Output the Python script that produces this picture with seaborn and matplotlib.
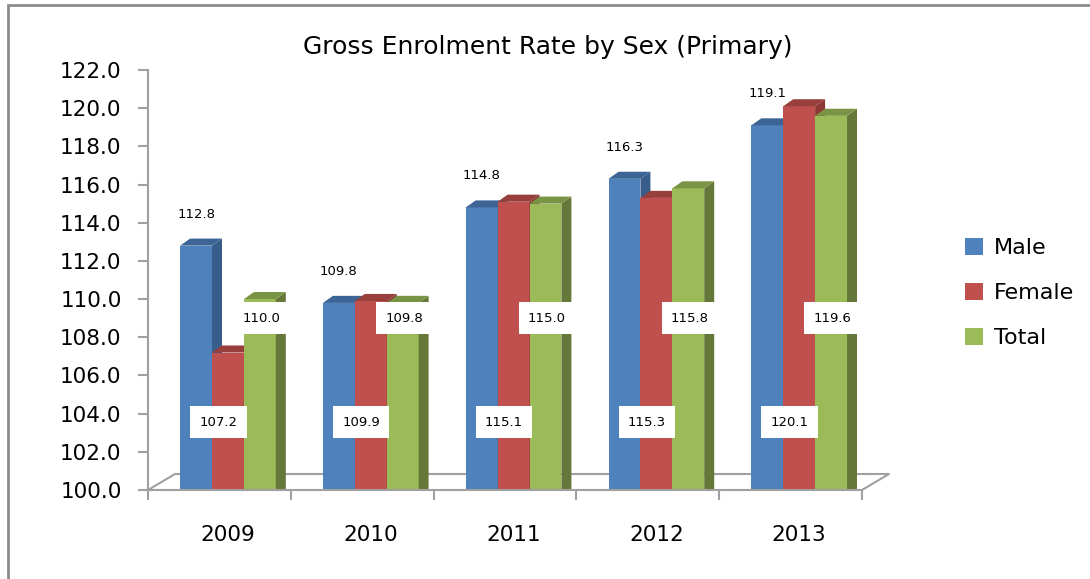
import numpy as np
import pandas as pd
import matplotlib
matplotlib.use("Agg")
import matplotlib.pyplot as plt
from matplotlib.patches import Polygon, Rectangle, Patch
import seaborn as sns

years = ["2009", "2010", "2011", "2012", "2013"]
male = [112.8, 109.8, 114.8, 116.3, 119.1]
female = [107.2, 109.9, 115.1, 115.3, 120.1]
total = [110.0, 109.8, 115.0, 115.8, 119.6]
series = ["Male", "Female", "Total"]

front = ["#4F81BD", "#C0504D", "#9BBB59"]
side = ["#385D8A", "#8C3836", "#66773A"]
top = ["#3C6494", "#983E3B", "#7A9445"]

df = pd.DataFrame({
    "year": years * 3,
    "value": male + female + total,
    "sex": ["Male"] * 5 + ["Female"] * 5 + ["Total"] * 5,
})

sns.set_style("white")
plt.rcParams["font.family"] = ["DejaVu Sans"]
plt.rcParams["text.color"] = "black"
plt.rcParams["xtick.labelcolor"] = "black"
plt.rcParams["ytick.labelcolor"] = "black"

fig = plt.figure(figsize=(10.9, 5.79), dpi=100)
ax = fig.add_axes([148 / 1090, 1 - 490 / 579, 714 / 1090, 420 / 579])

sns.barplot(data=df, x="year", y="value", hue="sex", palette=front,
            width=0.67, gap=0, saturation=1, legend=False, ax=ax, zorder=2)

ax.set_ylim(100, 122)
shift = 0.06
ax.set_xlim(-0.5 - shift, len(years) - 0.5 - shift)

# fake 3D depth for each bar
dx, dy = 0.07, 0.37
bars = ax.patches[:]
n = len(years)
box = dict(boxstyle="square,pad=0.7", fc="white", ec="none")
for i, bar in enumerate(bars):
    s = i // n
    x0 = bar.get_x()
    w = bar.get_width()
    x1 = x0 + w
    h = bar.get_height()
    bar.set_zorder(2 + s * 0.2)
    bar.set_edgecolor("none")
    sd = Polygon([(x1, 0), (x1 + dx, dy), (x1 + dx, h + dy), (x1, h)],
                 closed=True, fc=side[s], ec="none", zorder=2.1 + s * 0.2)
    tp = Polygon([(x0, h), (x0 + dx, h + dy), (x1 + dx, h + dy), (x1, h)],
                 closed=True, fc=top[s], ec="none", zorder=2.1 + s * 0.2)
    ax.add_patch(sd)
    ax.add_patch(tp)

    if s == 0:
        ax.text(x0 + w * 0.5, h + 1.65, f"{h:.1f}",
                ha="center", va="center", fontsize=9.5, zorder=5)
    elif s == 1:
        ax.text(x0 + w * 0.2, 103.55, f"{h:.1f}",
                ha="center", va="center", fontsize=9.5, zorder=5, bbox=box)
    else:
        ax.text(x0 + w * 0.55, 109.0, f"{h:.1f}",
                ha="center", va="center", fontsize=9.5, zorder=5, bbox=box)

# axes styling
for sp in ["top", "right"]:
    ax.spines[sp].set_visible(False)
ax.spines["left"].set_color("#A0A0A0")
ax.spines["bottom"].set_color("#A0A0A0")
ax.spines["left"].set_linewidth(1.5)
ax.spines["bottom"].set_linewidth(1.5)

ax.set_yticks(np.arange(100, 123, 2))
ax.set_yticklabels([f"{v:.1f}" for v in np.arange(100, 123, 2)], fontsize=15.5)
ax.tick_params(axis="y", length=7, width=1.5, color="#A0A0A0", pad=12, left=True)
ax.set_xticks(range(n))
ax.set_xticklabels(years, fontsize=15.5)
ax.tick_params(axis="x", length=0, pad=25)
ax.set_xticks(np.arange(n + 1) - 0.5 - shift, minor=True)
ax.tick_params(axis="x", which="minor", length=7, width=1.5, color="#A0A0A0",
               bottom=True)
ax.set_xlabel("")
ax.set_ylabel("")

# floor outline
fdx, fdy = 27 / 714, 16 / 420
ax.plot([0, fdx, 1 + fdx, 1], [0, fdy, fdy, 0], transform=ax.transAxes,
        color="#A0A0A0", lw=1.5, clip_on=False, zorder=1)

fig.text(548 / 1090, 1 - 47 / 579, "Gross Enrolment Rate by Sex (Primary)",
         ha="center", va="center", fontsize=18)

handles = [Patch(fc=c, ec="none") for c in front]
fig.legend(handles, series, loc="center left",
           bbox_to_anchor=(945 / 1090, 1 - 293 / 579), frameon=False,
           fontsize=16, labelspacing=1.1, handlelength=0.8, handleheight=0.8,
           handletextpad=0.5)

fig.patches.append(Rectangle((8 / 1090, -0.1), 1.2, 1.1 - 5 / 579,
                             transform=fig.transFigure, fill=False,
                             ec="#8C8C8C", lw=2, zorder=0))

fig.savefig("out.png", dpi=100)
